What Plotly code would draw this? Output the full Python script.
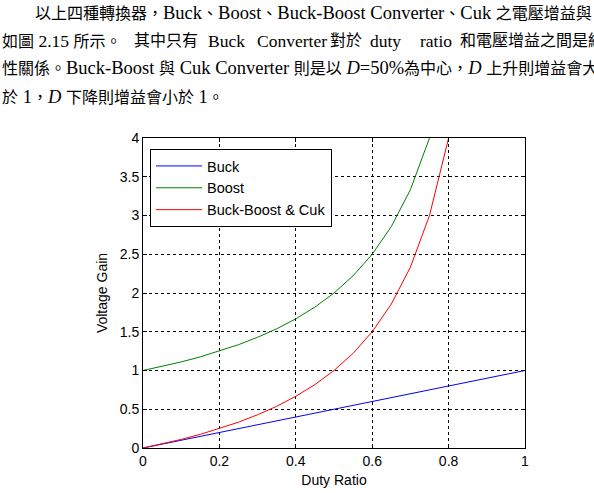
import re
import plotly.graph_objects as go

# ---- data ----
duty_buck = [0, 0.05, 0.1, 0.15, 0.2, 0.25, 0.3, 0.35, 0.4, 0.45, 0.5,
             0.55, 0.6, 0.65, 0.7, 0.75, 0.8, 0.85, 0.9, 0.95, 1.0]
gain_buck = [0, 0.05, 0.1, 0.15, 0.2, 0.25, 0.3, 0.35, 0.4, 0.45, 0.5,
             0.55, 0.6, 0.65, 0.7, 0.75, 0.8, 0.85, 0.9, 0.95, 1.0]

duty = [0, 0.05, 0.1, 0.15, 0.2, 0.25, 0.3, 0.35, 0.4, 0.45, 0.5,
        0.55, 0.6, 0.65, 0.7, 0.75, 0.8, 0.85]
gain_boost = [1.0, 1.053, 1.111, 1.176, 1.25, 1.333, 1.429, 1.538, 1.667, 1.818, 2.0,
              2.222, 2.5, 2.857, 3.333, 4.0, 5.0, 6.667]
gain_bbcuk = [0.0, 0.053, 0.111, 0.176, 0.25, 0.333, 0.429, 0.538, 0.667, 0.818, 1.0,
              1.222, 1.5, 1.857, 2.333, 3.0, 4.0, 5.667]

series_names = ["Buck", "Boost", "Buck-Boost & Cuk"]
series_colors = ["#0000FF", "#008000", "#FF0000"]

x_ticks = [0, 0.2, 0.4, 0.6, 0.8, 1]
y_ticks = [0, 0.5, 1, 1.5, 2, 2.5, 3, 3.5, 4]

# paragraph text above the chart (line 2 is justified in the source, so it is split into pieces)
text_line1 = ["以上四種轉換器，Buck、Boost、Buck-Boost Converter、Cuk 之電壓增益與"]
text_line2 = ["如圖 2.15 所示。", "其中只有", "Buck", "Converter", "對於", "duty", "ratio",
              "和電壓增益之間是線"]
text_line3 = ["性關係。Buck-Boost 與 Cuk Converter 則是以 <i>D</i>=50%為中心，<i>D</i> 上升則增益會大"]
text_line4 = ["於 1，<i>D</i> 下降則增益會小於 1。"]

W, H = 594, 493
L, R, T, B = 143, 69, 138, 45

fig = go.Figure()
fig.add_trace(go.Scatter(x=duty_buck, y=gain_buck, mode="lines", name=series_names[0],
                         line=dict(color=series_colors[0], width=1)))
fig.add_trace(go.Scatter(x=duty, y=gain_boost, mode="lines", name=series_names[1],
                         line=dict(color=series_colors[1], width=1)))
fig.add_trace(go.Scatter(x=duty, y=gain_bbcuk, mode="lines", name=series_names[2],
                         line=dict(color=series_colors[2], width=1)))

axis_font = dict(family="Liberation Sans, Arial, sans-serif", size=14, color="black")
common = dict(showline=True, linecolor="black", linewidth=1, mirror="ticks",
              ticks="inside", ticklen=4, tickcolor="black",
              showgrid=True, gridcolor="black", gridwidth=1, griddash="3px,3px",
              zeroline=False, tickfont=axis_font, automargin=False)

fig.update_xaxes(range=[0, 1], tickvals=x_ticks, ticktext=[f"{v:g}" for v in x_ticks],
                 ticklabelstandoff=0,
                 title=dict(text="Duty Ratio", font=axis_font, standoff=7), **common)
fig.update_yaxes(range=[0, 4], tickvals=y_ticks, ticktext=[f"{v:g}" for v in y_ticks],
                 title=dict(text="Voltage Gain", font=axis_font, standoff=8), **common)

pw = W - L - R
ph = H - T - B
fig.update_layout(
    width=W, height=H,
    margin=dict(l=L, r=R, t=T, b=B, autoexpand=False),
    paper_bgcolor="white", plot_bgcolor="white",
    showlegend=True,
    legend=dict(x=(150 - L) / pw, y=(H - B - 149) / ph, xanchor="left", yanchor="top",
                bgcolor="white", bordercolor="black", borderwidth=1, itemwidth=46,
                font=dict(family="Liberation Sans, Arial, sans-serif", size=14.5, color="black")),
)


def wrap_latin(s, size):
    return re.sub(r"([\x20-\x7e]+)",
                  lambda m: f'<span style="font-size:{size}px">' + m.group(1) + "</span>", s)


para_font = dict(family="Liberation Serif, Times New Roman, Noto Sans CJK TC, serif",
                 size=16, color="black")

line_layout = [
    (text_line1, [33], 13, 18.5),
    (text_line2, [0, 132, 206, 255, 328, 368, 418, 458], 41, 17.5),
    (text_line3, [0], 68, 18.5),
    (text_line4, [0], 97, 18.5),
]
for pieces, xs, yy, lat in line_layout:
    for txt, xx in zip(pieces, xs):
        fig.add_annotation(
            text=wrap_latin(txt, lat), xref="paper", yref="paper",
            x=(xx - L) / pw, y=(H - B - yy) / ph,
            xanchor="left", yanchor="middle", showarrow=False, font=para_font,
        )

fig.write_html("out.html")
